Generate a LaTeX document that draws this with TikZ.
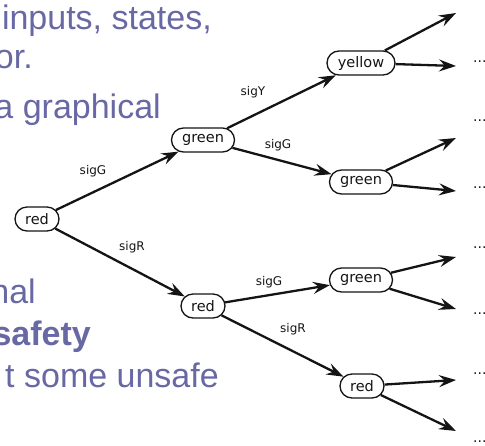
\documentclass[tikz,border=0pt]{standalone}
\usepackage{fontspec}
\setmainfont{Liberation Sans}
\newfontfamily\nodefont{DejaVu Sans}
\usetikzlibrary{arrows.meta,shapes.misc}
\definecolor{slidetext}{RGB}{104,104,164}
\definecolor{ink}{RGB}{20,20,20}
\tikzset{
  state/.style={rounded rectangle, draw=ink, line width=1.3pt, minimum height=24pt,
    inner xsep=2pt, inner ysep=2pt, font=\nodefont\fontsize{14.5}{16}\selectfont, text=ink},
  trans/.style={draw=ink, line width=2.3pt, -{Stealth[length=17pt,width=12pt,inset=6pt]}},
  siglabel/.style={font=\nodefont\fontsize{12}{14}\selectfont, text=ink, inner sep=0pt},
  dotsnode/.style={font=\nodefont\fontsize{14}{16}\selectfont, anchor=west, inner sep=0pt, text=ink},
  slide/.style={font=\fontsize{34}{40}\selectfont, text=slidetext, anchor=base east, inner sep=0pt}
}
\begin{document}
\begin{tikzpicture}[x=1pt,y=-1pt]
\useasboundingbox (0,0) rectangle (485,445);
% slide text (cut at left)
\node[slide] (t1) at (212,29) {inputs, states,};
\node[slide] (t2) at (33,68) {or.};
\node[slide] (t3) at (161,118) {a graphical};
\node[slide] (t4) at (36,303) {nal};
\node[slide,font=\fontsize{34}{40}\selectfont\bfseries] (t5) at (91,345) {safety};
\node[slide] (t6) at (219,387) {t some unsafe};
% states
\node[state, minimum width=48pt] (r0) at (37,219) {red};
\node[state, minimum width=67pt] (g1) at (203,140) {green};
\node[state, minimum width=48pt] (r1) at (203,306) {red};
\node[state, minimum width=72pt] (y2) at (361,63) {yellow};
\node[state, minimum width=67pt] (g2) at (361,182) {green};
\node[state, minimum width=67pt] (g3) at (361,280) {green};
\node[state, minimum width=48pt] (r2) at (362,386) {red};
% transitions
\draw[trans] (r0) -- (g1);
\draw[trans] (r0) -- (r1);
\draw[trans] (g1) -- (y2);
\draw[trans] (g1) -- (g2);
\draw[trans] (r1) -- (g3);
\draw[trans] (r1) -- (r2);
% labels
\node[siglabel] (l1) at (93,171) {sigG};
\node[siglabel] (l2) at (132,247) {sigR};
\node[siglabel] (l3) at (253,92) {sigY};
\node[siglabel] (l4) at (278,145) {sigG};
\node[siglabel] (l5) at (269,282) {sigG};
\node[siglabel] (l6) at (293,329) {sigR};
% leaf ends
\coordinate (e1) at (456,13);
\coordinate (e2) at (456,66);
\coordinate (e3) at (456,138);
\coordinate (e4) at (456,191);
\coordinate (e5) at (456,257);
\coordinate (e6) at (456,309);
\coordinate (e7) at (456,380);
\coordinate (e8) at (456,431);
\draw[trans] (y2) -- (e1);
\draw[trans] (y2) -- (e2);
\draw[trans] (g2) -- (e3);
\draw[trans] (g2) -- (e4);
\draw[trans] (g3) -- (e5);
\draw[trans] (g3) -- (e6);
\draw[trans] (r2) -- (e7);
\draw[trans] (r2) -- (e8);
% dots
\node[dotsnode] (d1) at (473,-3) {...};
\node[dotsnode] (d2) at (473,62) {...};
\node[dotsnode] (d3) at (473,121) {...};
\node[dotsnode] (d4) at (473,188) {...};
\node[dotsnode] (d5) at (473,248) {...};
\node[dotsnode] (d6) at (473,314) {...};
\node[dotsnode] (d7) at (473,374) {...};
\node[dotsnode] (d8) at (473,442) {...};
\end{tikzpicture}
\end{document}
